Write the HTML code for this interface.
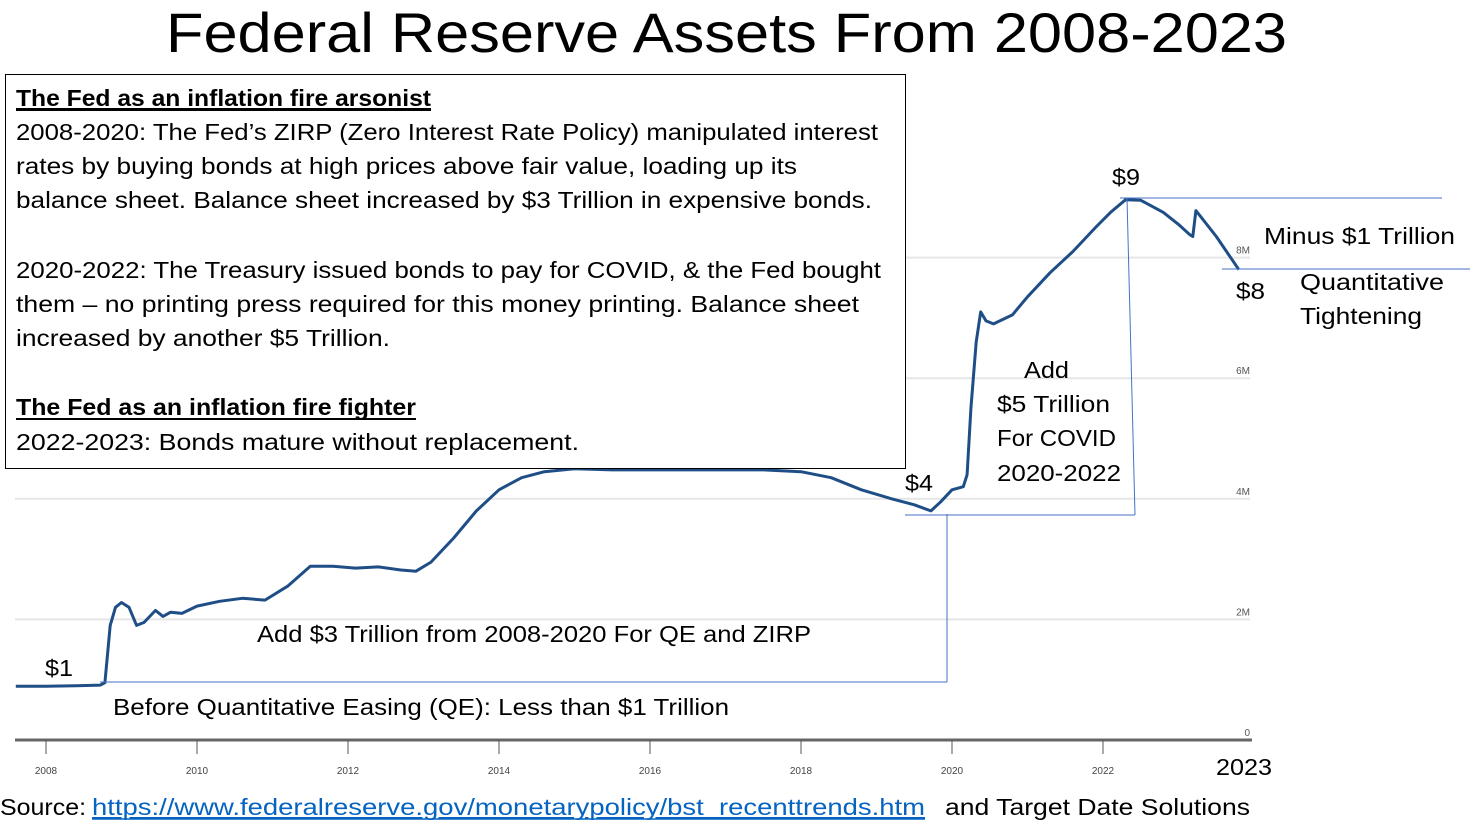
<!DOCTYPE html>
<html><head><meta charset="utf-8"><style>
body{margin:0;background:#fff;}
svg{display:block;font-family:"Liberation Sans",sans-serif;}
</style></head><body>
<svg width="1471" height="834" viewBox="0 0 1471 834">
<text x="166" y="52" font-size="56" textLength="1121" lengthAdjust="spacingAndGlyphs" fill="#000">Federal Reserve Assets From 2008-2023</text>
<g id="grid"></g>
<g id="axis"></g>
<g id="ylabels"></g>
<path id="series" fill="none" stroke="#1f4e87" stroke-width="3" stroke-linejoin="round"/>
<g stroke="#4472c4" stroke-width="1">
<line x1="100" y1="682" x2="947" y2="682"/><line x1="947" y1="514" x2="947" y2="682"/>
<line x1="905" y1="515" x2="1135" y2="515"/><line x1="1127" y1="198" x2="1135" y2="515"/>
<line x1="1120" y1="198" x2="1442" y2="198"/><line x1="1222" y1="269" x2="1470" y2="269"/>
</g>
<rect x="5.5" y="74.5" width="900" height="394" fill="#fff" stroke="#000" stroke-width="1"/>
<g font-size="23" fill="#000">
<text x="16" y="106" font-weight="bold" textLength="415" lengthAdjust="spacingAndGlyphs" text-decoration="underline">The Fed as an inflation fire arsonist</text>
<line x1="16" y1="110" x2="431" y2="110" stroke="#000" stroke-width="2"/>
<text x="16" y="140" textLength="862" lengthAdjust="spacingAndGlyphs">2008-2020: The Fed’s ZIRP (Zero Interest Rate Policy) manipulated interest</text>
<text x="16" y="174" textLength="781" lengthAdjust="spacingAndGlyphs">rates by buying bonds at high prices above fair value, loading up its</text>
<text x="16" y="208" textLength="856" lengthAdjust="spacingAndGlyphs">balance sheet.  Balance sheet increased by $3 Trillion in expensive bonds.</text>
<text x="16" y="278" textLength="865" lengthAdjust="spacingAndGlyphs">2020-2022: The Treasury issued bonds to pay for COVID, &amp; the Fed bought</text>
<text x="16" y="312" textLength="843" lengthAdjust="spacingAndGlyphs">them – no printing press required for this money printing. Balance sheet</text>
<text x="16" y="346" textLength="374" lengthAdjust="spacingAndGlyphs">increased by another $5 Trillion.</text>
<text x="16" y="415" font-weight="bold" textLength="400" lengthAdjust="spacingAndGlyphs">The Fed as an inflation fire fighter</text>
<line x1="16" y1="419" x2="416" y2="419" stroke="#000" stroke-width="2"/>
<text x="16" y="450" textLength="563" lengthAdjust="spacingAndGlyphs">2022-2023: Bonds mature without replacement.</text>
</g>
<g font-size="23" fill="#000">
<text x="1112" y="185" textLength="28" lengthAdjust="spacingAndGlyphs">$9</text>
<text x="1264" y="244" textLength="191" lengthAdjust="spacingAndGlyphs">Minus $1 Trillion</text>
<text x="1236" y="299" textLength="29" lengthAdjust="spacingAndGlyphs">$8</text>
<text x="1300" y="290" textLength="144" lengthAdjust="spacingAndGlyphs">Quantitative</text>
<text x="1300" y="324" textLength="122" lengthAdjust="spacingAndGlyphs">Tightening</text>
<text x="1024" y="378" textLength="45" lengthAdjust="spacingAndGlyphs">Add</text>
<text x="997" y="412" textLength="113" lengthAdjust="spacingAndGlyphs">$5 Trillion</text>
<text x="997" y="446" textLength="119" lengthAdjust="spacingAndGlyphs">For COVID</text>
<text x="997" y="481" textLength="124" lengthAdjust="spacingAndGlyphs">2020-2022</text>
<text x="905" y="491" textLength="28" lengthAdjust="spacingAndGlyphs">$4</text>
<text x="257" y="642" textLength="554" lengthAdjust="spacingAndGlyphs">Add $3 Trillion from 2008-2020 For QE and ZIRP</text>
<text x="45" y="676" textLength="28" lengthAdjust="spacingAndGlyphs">$1</text>
<text x="113" y="715" textLength="616" lengthAdjust="spacingAndGlyphs">Before Quantitative Easing (QE):  Less than $1 Trillion</text>
<text x="1216" y="775" textLength="56" lengthAdjust="spacingAndGlyphs">2023</text>
<text x="0" y="815" textLength="86" lengthAdjust="spacingAndGlyphs">Source:</text>
<text x="92" y="815" fill="#0563c1" text-decoration="underline" textLength="833" lengthAdjust="spacingAndGlyphs">https://www.federalreserve.gov/monetarypolicy/bst_recenttrends.htm</text>
<line x1="92" y1="819" x2="925" y2="819" stroke="#0563c1" stroke-width="1.5"/>
<text x="945" y="815" textLength="305" lengthAdjust="spacingAndGlyphs">and  Target Date Solutions</text>
</g>
<script>
const years=[2007.6,2008.0,2008.4,2008.72,2008.78,2008.85,2008.92,2009.0,2009.1,2009.2,2009.3,2009.45,2009.55,2009.65,2009.8,2010.0,2010.3,2010.6,2010.9,2011.2,2011.5,2011.8,2012.1,2012.4,2012.7,2012.9,2013.1,2013.4,2013.7,2014.0,2014.3,2014.6,2015.0,2015.5,2016.0,2016.5,2017.0,2017.5,2018.0,2018.4,2018.8,2019.2,2019.5,2019.72,2019.85,2020.0,2020.15,2020.2,2020.25,2020.32,2020.38,2020.45,2020.55,2020.8,2021.0,2021.3,2021.6,2021.9,2022.1,2022.3,2022.5,2022.8,2023.0,2023.15,2023.19,2023.23,2023.5,2023.8];
const values=[0.89,0.89,0.9,0.91,0.95,1.9,2.2,2.28,2.2,1.9,1.95,2.15,2.05,2.12,2.1,2.22,2.3,2.35,2.32,2.55,2.88,2.88,2.85,2.87,2.82,2.8,2.95,3.35,3.8,4.15,4.35,4.45,4.5,4.48,4.48,4.48,4.48,4.48,4.45,4.35,4.15,4.0,3.9,3.8,3.95,4.15,4.2,4.4,5.5,6.6,7.1,6.95,6.9,7.05,7.35,7.75,8.1,8.5,8.75,8.96,8.95,8.75,8.55,8.38,8.35,8.78,8.35,7.8];
const xTicks=[2008,2010,2012,2014,2016,2018,2020,2022];
const yTicks=[2,4,6,8];
const X=y=>46+(y-2008)*75.5, Y=v=>740-v*60.3;
const NS="http://www.w3.org/2000/svg";
const grid=document.getElementById('grid'),axis=document.getElementById('axis'),yl=document.getElementById('ylabels');
yTicks.forEach(t=>{const l=document.createElementNS(NS,'line');


l.setAttribute('x1',15);l.setAttribute('x2',1250);l.setAttribute('y1',Y(t));l.setAttribute('y2',Y(t));l.setAttribute('stroke','#e6e6e6');l.setAttribute('stroke-width',2);grid.appendChild(l);
const tx=document.createElementNS(NS,'text');


tx.setAttribute('x',1250);tx.setAttribute('y',Y(t)-4);tx.setAttribute('font-size',10);tx.setAttribute('fill','#555');tx.setAttribute('text-anchor','end');tx.textContent=t+'M';yl.appendChild(tx);});
const z=document.createElementNS(NS,'text');


z.setAttribute('x',1250);z.setAttribute('y',736);z.setAttribute('font-size',10);z.setAttribute('fill','#555');z.setAttribute('text-anchor','end');z.textContent='0';yl.appendChild(z);
const al=document.createElementNS(NS,'line');


al.setAttribute('x1',15);al.setAttribute('x2',1252);al.setAttribute('y1',740);al.setAttribute('y2',740);al.setAttribute('stroke','#666');al.setAttribute('stroke-width',3);axis.appendChild(al);
xTicks.forEach(t=>{const l=document.createElementNS(NS,'line');


l.setAttribute('x1',X(t));l.setAttribute('x2',X(t));l.setAttribute('y1',740);l.setAttribute('y2',754);l.setAttribute('stroke','#555');axis.appendChild(l);
const tx=document.createElementNS(NS,'text');


tx.setAttribute('x',X(t));tx.setAttribute('y',774);tx.setAttribute('font-size',10);tx.setAttribute('fill','#444');tx.setAttribute('text-anchor','middle');tx.textContent=t;axis.appendChild(tx);});
document.getElementById('series').setAttribute('d',years.map((y,i)=>(i?'L':'M')+X(y).toFixed(1)+','+Y(values[i]).toFixed(1)).join(''));
</script>
</svg>
</body></html>
